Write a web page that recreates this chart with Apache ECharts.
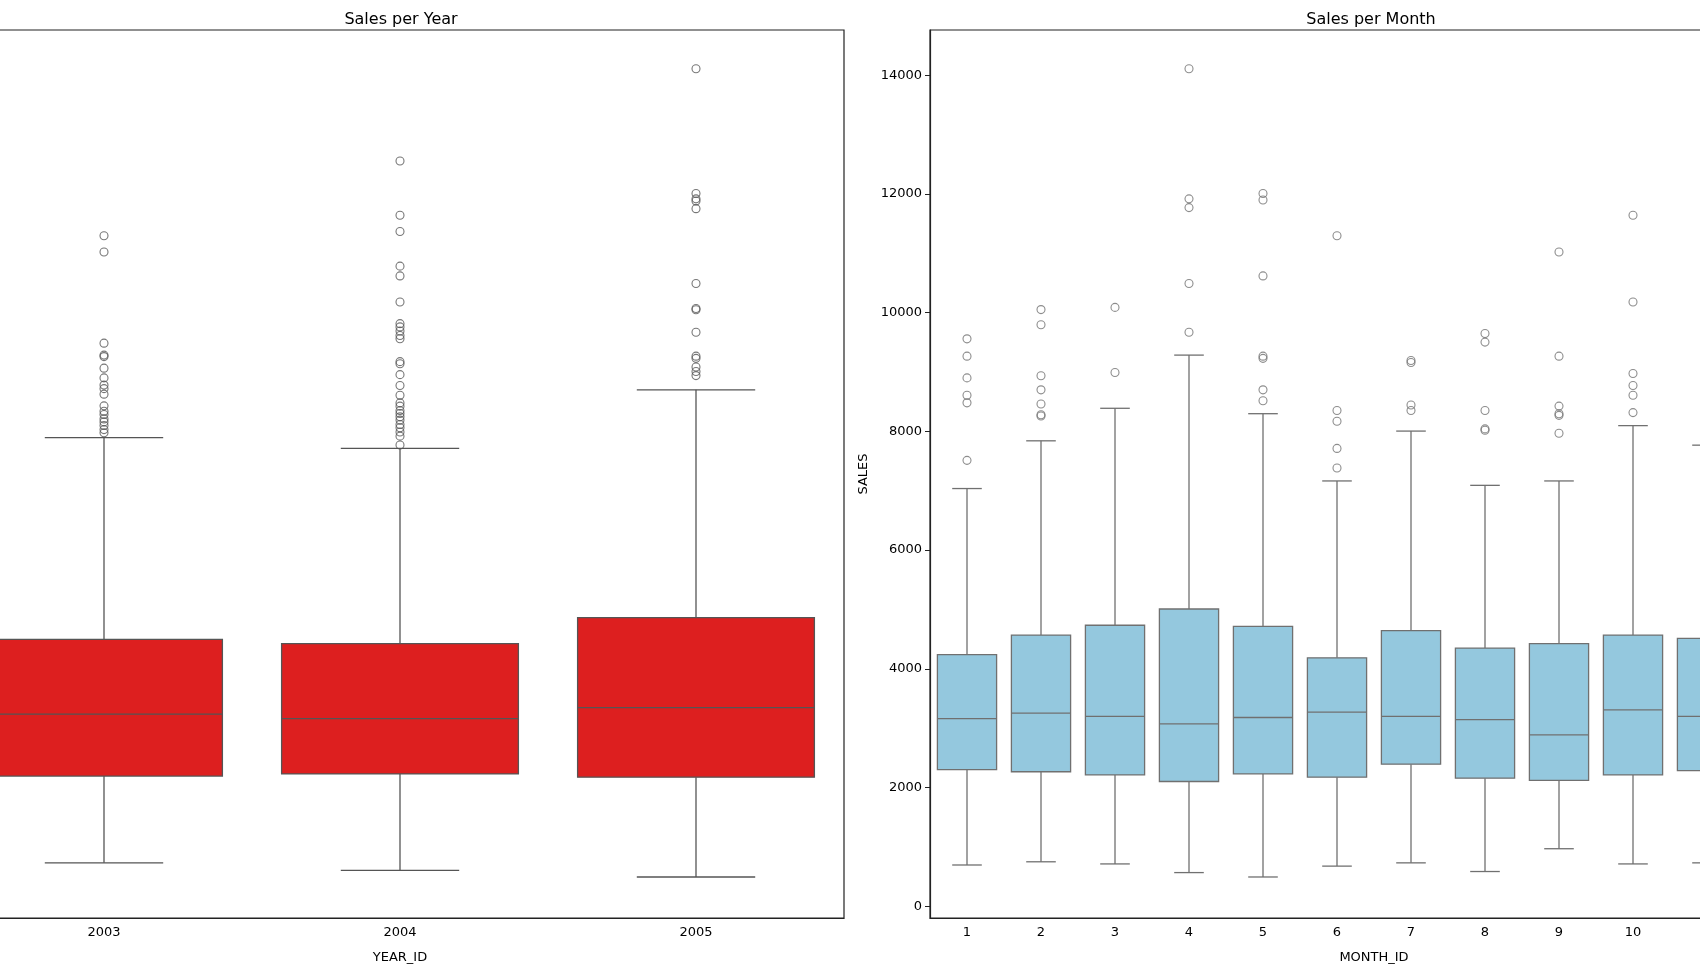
<!DOCTYPE html>
<html><head><meta charset="utf-8">
<script src="https://cdn.jsdelivr.net/npm/echarts@6/dist/echarts.min.js"></script>
<style>html,body{margin:0;padding:0;background:#fff}#c{width:1700px;height:970px}</style>
</head><body><div id="c"></div>
<script>
const years = ['2003','2004','2005'];
// [low whisker, Q1, median, Q3, high whisker]
const yearBoxes = [
  [731, 2193, 3235, 4496, 7896],
  [603, 2230, 3162, 4423, 7713],
  [493, 2175, 3345, 4862, 8700]
];
const yearOutliers = [
  [11295, 11021, 9486, 9285, 9260, 9065, 8901, 8780, 8720, 8627, 8430, 8340, 8285, 8210, 8160, 8100, 8030, 7975],
  [12556, 11642, 11368, 10784, 10619, 10180, 9815, 9760, 9690, 9615, 9560, 9175, 9140, 8956, 8773, 8609, 8480, 8425, 8350, 8300, 8245, 8190, 8115, 8060, 7990, 7920, 7770],
  [14110, 12008, 11917, 11880, 11752, 10491, 10071, 10050, 9669, 9267, 9230, 9085, 9010, 8940]
];
const months = ['1','2','3','4','5','6','7','8','9','10','11','12'];
const monthBoxes = [
  [695, 2303, 3162, 4240, 7037],
  [749, 2266, 3253, 4569, 7841],
  [713, 2212, 3198, 4734, 8389],
  [567, 2102, 3071, 5008, 9285],
  [493, 2230, 3180, 4715, 8298],
  [676, 2175, 3272, 4185, 7165],
  [731, 2394, 3198, 4642, 8005],
  [585, 2157, 3144, 4350, 7091],
  [969, 2120, 2888, 4423, 7165],
  [713, 2212, 3308, 4569, 8097],
  [731, 2285, 3198, 4514, 7768],
  [640, 2250, 3250, 4600, 7900]
];
const monthOutliers = [
  [9559, 9267, 8901, 8609, 8481, 7512],
  [10052, 9797, 8938, 8700, 8462, 8280, 8260],
  [10089, 8992],
  [14110, 11917, 11770, 10491, 9669],
  [12008, 11898, 10619, 9267, 9230, 8700, 8517],
  [11295, 8353, 8170, 7713, 7384],
  [9193, 9160, 8444, 8353],
  [9650, 9504, 8353, 8042, 8020],
  [11021, 9267, 8426, 8298, 8270, 7969],
  [11642, 10180, 8974, 8773, 8609, 8316],
  [12556, 11368, 10784, 9815, 9175],
  [11752, 10071, 9486, 9065, 8956]
];

function boxRender(fill, stroke){
  return function(params, api){
    const i = api.value(0);
    const bw = api.size([1,0])[0];
    const half = bw*0.4, cap = bw*0.2;
    const pl = api.coord([i, api.value(1)]), p1 = api.coord([i, api.value(2)]),
          pm = api.coord([i, api.value(3)]), p3 = api.coord([i, api.value(4)]),
          ph = api.coord([i, api.value(5)]);
    const x = pl[0];
    const ls = {stroke: stroke, lineWidth: 1.3};
    return {type:'group', children:[
      {type:'line', shape:{x1:x,y1:pl[1],x2:x,y2:p1[1]}, style:ls},
      {type:'line', shape:{x1:x,y1:p3[1],x2:x,y2:ph[1]}, style:ls},
      {type:'line', shape:{x1:x-cap,y1:pl[1],x2:x+cap,y2:pl[1]}, style:ls},
      {type:'line', shape:{x1:x-cap,y1:ph[1],x2:x+cap,y2:ph[1]}, style:ls},
      {type:'rect', shape:{x:x-half,y:p3[1],width:2*half,height:p1[1]-p3[1]}, style:{fill:fill, stroke:stroke, lineWidth:1.3}},
      {type:'line', shape:{x1:x-half,y1:pm[1],x2:x+half,y2:pm[1]}, style:ls}
    ]};
  };
}
function boxData(b){ return b.map((v,i)=>[i].concat(v)); }
function outData(o){ const r=[]; o.forEach((arr,i)=>arr.forEach(v=>r.push([i,v]))); return r; }

const yMin=-198, yMax=14762;
const font = 'DejaVu Sans';
const grids = [
  {left:-44, width:888, top:30, height:888, show:true, borderColor:'#222', borderWidth:1.2, outerBoundsMode:'none', containLabel:false},
  {left:930, width:888, top:30, height:888, show:true, borderColor:'#222', borderWidth:1.2, outerBoundsMode:'none', containLabel:false}
];
function xAx(idx, data, name){
  return {type:'category', gridIndex:idx, data:data, boundaryGap:true, name:name, nameLocation:'middle', nameGap:33,
    nameTextStyle:{color:'#000', fontSize:13, fontFamily:font},
    axisLine:{onZero:false, lineStyle:{color:'#222', width:1.2}}, axisTick:{alignWithLabel:true, length:5, lineStyle:{color:'#222'}},
    axisLabel:{color:'#000', fontSize:13, fontFamily:font, margin:8}, splitLine:{show:false}};
}
function yAx(idx, name){
  return {type:'value', gridIndex:idx, min:yMin, max:yMax, splitNumber:7, name:name, nameLocation:'middle', nameGap:58,
    nameTextStyle:{color:'#000', fontSize:13, fontFamily:font},
    axisLine:{show:true, onZero:false, lineStyle:{color:'#222', width:1.2}}, axisTick:{show:true, length:5, lineStyle:{color:'#222'}},
    axisLabel:{color:'#000', fontSize:13, fontFamily:font, margin:8, showMinLabel:false, showMaxLabel:false, formatter:v=>String(v)},
    splitLine:{show:false}};
}
const chart = echarts.init(document.getElementById('c'));
chart.setOption({
  animation:false,
  title:[
    {text:'Sales per Year', left:396, top:7, textAlign:'center', textStyle:{fontSize:16, fontWeight:'normal', color:'#000', fontFamily:font}},
    {text:'Sales per Month', left:1366, top:7, textAlign:'center', textStyle:{fontSize:16, fontWeight:'normal', color:'#000', fontFamily:font}}
  ],
  grid:grids,
  xAxis:[xAx(0, years, 'YEAR_ID'), xAx(1, months, 'MONTH_ID')],
  yAxis:[yAx(0, ''), yAx(1, 'SALES')],
  series:[
    {type:'custom', xAxisIndex:0, yAxisIndex:0, renderItem:boxRender('#dd1f1f','#555555'), data:boxData(yearBoxes), encode:{x:0,y:[1,2,3,4,5]}},
    {type:'scatter', xAxisIndex:0, yAxisIndex:0, symbol:'circle', symbolSize:8, data:outData(yearOutliers),
      itemStyle:{color:'rgba(0,0,0,0)', borderColor:'#555555', borderWidth:1.1}},
    {type:'custom', xAxisIndex:1, yAxisIndex:1, renderItem:boxRender('#94c8de','#707070'), data:boxData(monthBoxes), encode:{x:0,y:[1,2,3,4,5]}},
    {type:'scatter', xAxisIndex:1, yAxisIndex:1, symbol:'circle', symbolSize:8, data:outData(monthOutliers),
      itemStyle:{color:'rgba(0,0,0,0)', borderColor:'#707070', borderWidth:1.1}}
  ]
});
</script></body></html>
